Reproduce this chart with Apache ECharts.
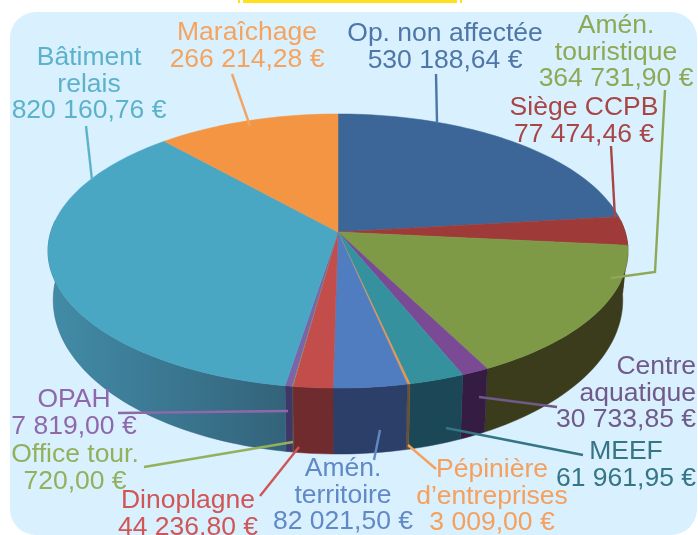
<!DOCTYPE html>
<html>
<head>
<meta charset="utf-8">
<style>
html,body{margin:0;padding:0;background:#fff;}
#chart{width:698px;height:535px;}
</style>
<script src="https://cdn.jsdelivr.net/npm/echarts@6/dist/echarts.min.js"></script>
</head>
<body>
<div id="chart"></div>
<script>
// slices, clockwise from the top
var sliceNames = ["Op. non affectée","Siège CCPB","Amén.\ntouristique","Centre\naquatique","MEEF","Pépinière\nd’entreprises","Amén.\nterritoire","Dinoplagne","Office tour.","OPAH","Bâtiment\nrelais","Maraîchage"];
var sliceValues = [530188.64,77474.46,364731.90,30733.85,61961.95,3009.00,82021.50,44236.80,720.00,7819.00,820160.76,266214.28];

var topColors = ["#3b6697","#9e3a38","#7f9a47","#7a4a94","#36919f","#e8964f","#4f7dbf","#c24d4a","#8fa550","#7b65a8","#4aa7c4","#f39542"];
var wallColors = [["#2a4a70","#2a4a70"],["#5a2020","#5a2020"],["#3b3c1c","#3b3c1c"],["#341c42","#341c42"],["#1b4757","#1b4757"],["#6b5030","#6b5030"],["#2c3f68","#2c3f68"],["#702b2e","#702b2e"],["#5a5a30","#5a5a30"],["#3e3768","#3e3768"],["#428ca8","#33637a"],["#a8652c","#a8652c"]];
var textColors = ["#4f76a8","#a84646","#8ea955","#6f5a8a","#357585","#f5a05c","#6089c6","#d05656","#93b05c","#8f68ab","#5cb2cb","#f5a460"];

// label place: center x (or right edge), y of first line, align
var labelPos = [[445,34,"center"],[584,108,"center"],[616,26,"center"],[696,367,"right"],[626,452,"center"],[492,470,"center"],[343,469,"center"],[188,501,"center"],[75,455,"center"],[74,400,"center"],[89,58,"center"],[247,33,"center"]];
var leaders = [
	[[436,74],[437,122]],
	[[611,146],[615,218]],
	[[665,90],[655,272],[611,278]],
	[[479,397],[557,407]],
	[[446,428],[583,455]],
	[[408,445],[436,469]],
	[[380,430],[374,460]],
	[[299,447],[260,496]],
	[[144,467],[293,442]],
	[[118,413],[288,411]],
	[[86,126],[92,180]],
	[[232,74],[250,126]]
];

// perspective of the disc
var cx = 338, persp = 0.1387;
var topDisc = {y0:232, r:287.2, k:134.4};
var botDisc = {y0:278.7, r:282, k:151};
var fontSize = 26.5, lineH = 26.5;

var total = 0;
for(var i=0;i<sliceValues.length;i++){
	total += sliceValues[i];
}
var startAngles = [];
var sum = 0;
for(var i=0;i<sliceValues.length;i++){
	startAngles.push(sum/total*360);
	sum += sliceValues[i];
}

function rimPoint(disc,deg){
	var a = deg*Math.PI/180;
	var u = Math.sin(a), v = -Math.cos(a);
	var w = 1-persp*v;
	return [cx+disc.r*u/w, disc.y0+disc.k*v/w];
}

function arcPoints(disc,a0,a1){
	var pts = [];
	var n = Math.max(2,Math.ceil((a1-a0)/1.5));
	for(var j=0;j<=n;j++){
		pts.push(rimPoint(disc,a0+(a1-a0)*j/n));
	}
	return pts;
}

function renderTop(params,api){
	var i = params.dataIndex;
	var a0 = startAngles[i];
	var a1 = a0+api.value(0)/total*360;
	var pts = [[cx,topDisc.y0]].concat(arcPoints(topDisc,a0,a1));
	return {type:"polygon",shape:{points:pts},style:{fill:topColors[i],stroke:topColors[i],lineWidth:0.5}};
}

function renderWall(params,api){
	var i = params.dataIndex;
	var a0 = Math.max(startAngles[i],85);
	var a1 = Math.min(startAngles[i]+api.value(0)/total*360,275);
	if(a1<=a0){
		return null;
	}
	var pts = arcPoints(topDisc,a0,a1).concat(arcPoints(botDisc,a0,a1).reverse());
	var c = wallColors[i];
	return {type:"polygon",shape:{points:pts},style:{
		fill:new echarts.graphic.LinearGradient(0,0,1,0,[{offset:0,color:c[0]},{offset:1,color:c[1]}]),
		stroke:c[1],lineWidth:0.5
	}};
}

function euro(v){
	var s = v.toFixed(2).split(".");
	return s[0].replace(/\B(?=(\d{3})+$)/g," ")+","+s[1]+" €";
}

function buildGraphics(){
	var g = [];
	g.push({type:"rect",z:-1,shape:{x:10,y:12,width:687,height:523,r:26},style:{fill:"#d9f0ff"}});
	g.push({type:"rect",shape:{x:243,y:0,width:214,height:3},style:{fill:"#ffe01a"}});
	g.push({type:"rect",shape:{x:238,y:0,width:2,height:3},style:{fill:"#ffe01a"}});
	g.push({type:"rect",shape:{x:460,y:0,width:2,height:3},style:{fill:"#ffe01a"}});
	for(var i=0;i<sliceNames.length;i++){
		g.push({type:"polyline",z:10,shape:{points:leaders[i]},style:{fill:null,stroke:textColors[i],lineWidth:2.4}});
		g.push({type:"text",z:11,style:{
			x:labelPos[i][0],
			y:labelPos[i][1]-lineH/2,
			text:sliceNames[i]+"\n"+euro(sliceValues[i]),
			fill:textColors[i],
			font:fontSize+"px 'Liberation Sans', sans-serif",
			lineHeight:lineH,
			textAlign:labelPos[i][2],
			textVerticalAlign:"top"
		}});
	}
	return g;
}

$init();
function $init(){
	var myChart = echarts.init(document.getElementById("chart"),null,{renderer:"canvas"});
	myChart.setOption({
		animation:false,
		backgroundColor:"#fff",
		graphic:buildGraphics(),
		series:[
			{type:"custom",coordinateSystem:"none",z:2,data:sliceValues,renderItem:renderWall},
			{type:"custom",coordinateSystem:"none",z:3,data:sliceValues,renderItem:renderTop}
		]
	});
}
</script>
</body>
</html>
